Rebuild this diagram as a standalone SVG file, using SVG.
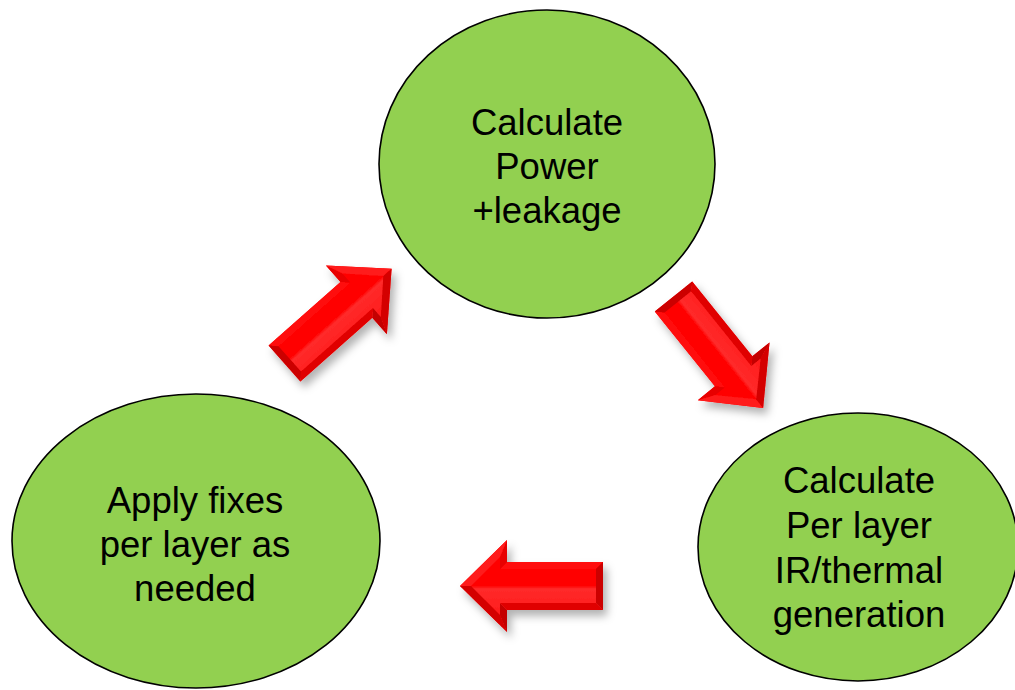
<svg xmlns="http://www.w3.org/2000/svg" xmlns:xlink="http://www.w3.org/1999/xlink" width="1015" height="690" viewBox="0 0 1015 690">
<style>
.node ellipse{fill:#92D050;stroke:#000;stroke-width:1.6}
.node text{font-family:"Liberation Sans",Arial,sans-serif;font-size:36.5px;fill:#000;text-anchor:middle}
</style>
<defs>
<filter id="sh" x="-30%" y="-30%" width="160%" height="160%">
<feDropShadow dx="4" dy="6" stdDeviation="4" flood-color="#000" flood-opacity="0.3"/>
</filter>
<linearGradient id="face" gradientUnits="userSpaceOnUse" x1="0" y1="-24" x2="0" y2="24">
<stop offset="0" stop-color="#FF0000"/>
<stop offset="0.5" stop-color="#FF0606"/>
<stop offset="0.56" stop-color="#FF2A2A"/>
<stop offset="1" stop-color="#FF1E1E"/>
</linearGradient>
<g id="arrow">
<polygon points="0,-24 96,-24 96,-46 143,0 96,46 96,24 0,24" fill="url(#face)"/>
<polygon points="0,-24 96,-24 103,-17 7,-17" fill="#FF0C0C"/>
<polygon points="96,-24 96,-46 103,-29 103,-17" fill="#E80000"/>
<polygon points="96,-46 143,0 132,0 103,-29" fill="#FF1A1A"/>
<polygon points="143,0 96,46 103,29 132,0" fill="#D40000"/>
<polygon points="96,46 96,24 103,17 103,29" fill="#C40000"/>
<polygon points="96,24 0,24 7,17 103,17" fill="#E00000"/>
<polygon points="0,24 0,-24 7,-17 7,17" fill="#CC0000"/>
</g>
</defs>
<rect width="1015" height="690" fill="#fff"/>
<g id="connectors">
<g filter="url(#sh)"><use xlink:href="#arrow" transform="translate(284.5,363.5) rotate(-41.5)"/></g>
<g filter="url(#sh)"><use xlink:href="#arrow" transform="translate(673.5,296.5) rotate(51.2) scale(1,-1)"/></g>
<g filter="url(#sh)"><use xlink:href="#arrow" transform="translate(603,586) scale(-1,1)"/></g>
</g>
<g id="node-power" class="node">
<ellipse cx="547" cy="164" rx="168" ry="154"/>
<text x="547" y="135">Calculate</text>
<text x="547" y="179">Power</text>
<text x="547" y="223">+leakage</text>
</g>
<g id="node-thermal" class="node">
<ellipse cx="858" cy="547" rx="160" ry="134"/>
<text x="859" y="493">Calculate</text>
<text x="859" y="538">Per layer</text>
<text x="859" y="583">IR/thermal</text>
<text x="859" y="627">generation</text>
</g>
<g id="node-fixes" class="node">
<ellipse cx="196" cy="541" rx="184" ry="147"/>
<text x="195" y="513">Apply fixes</text>
<text x="195" y="557">per layer as</text>
<text x="195" y="601">needed</text>
</g>
</svg>
